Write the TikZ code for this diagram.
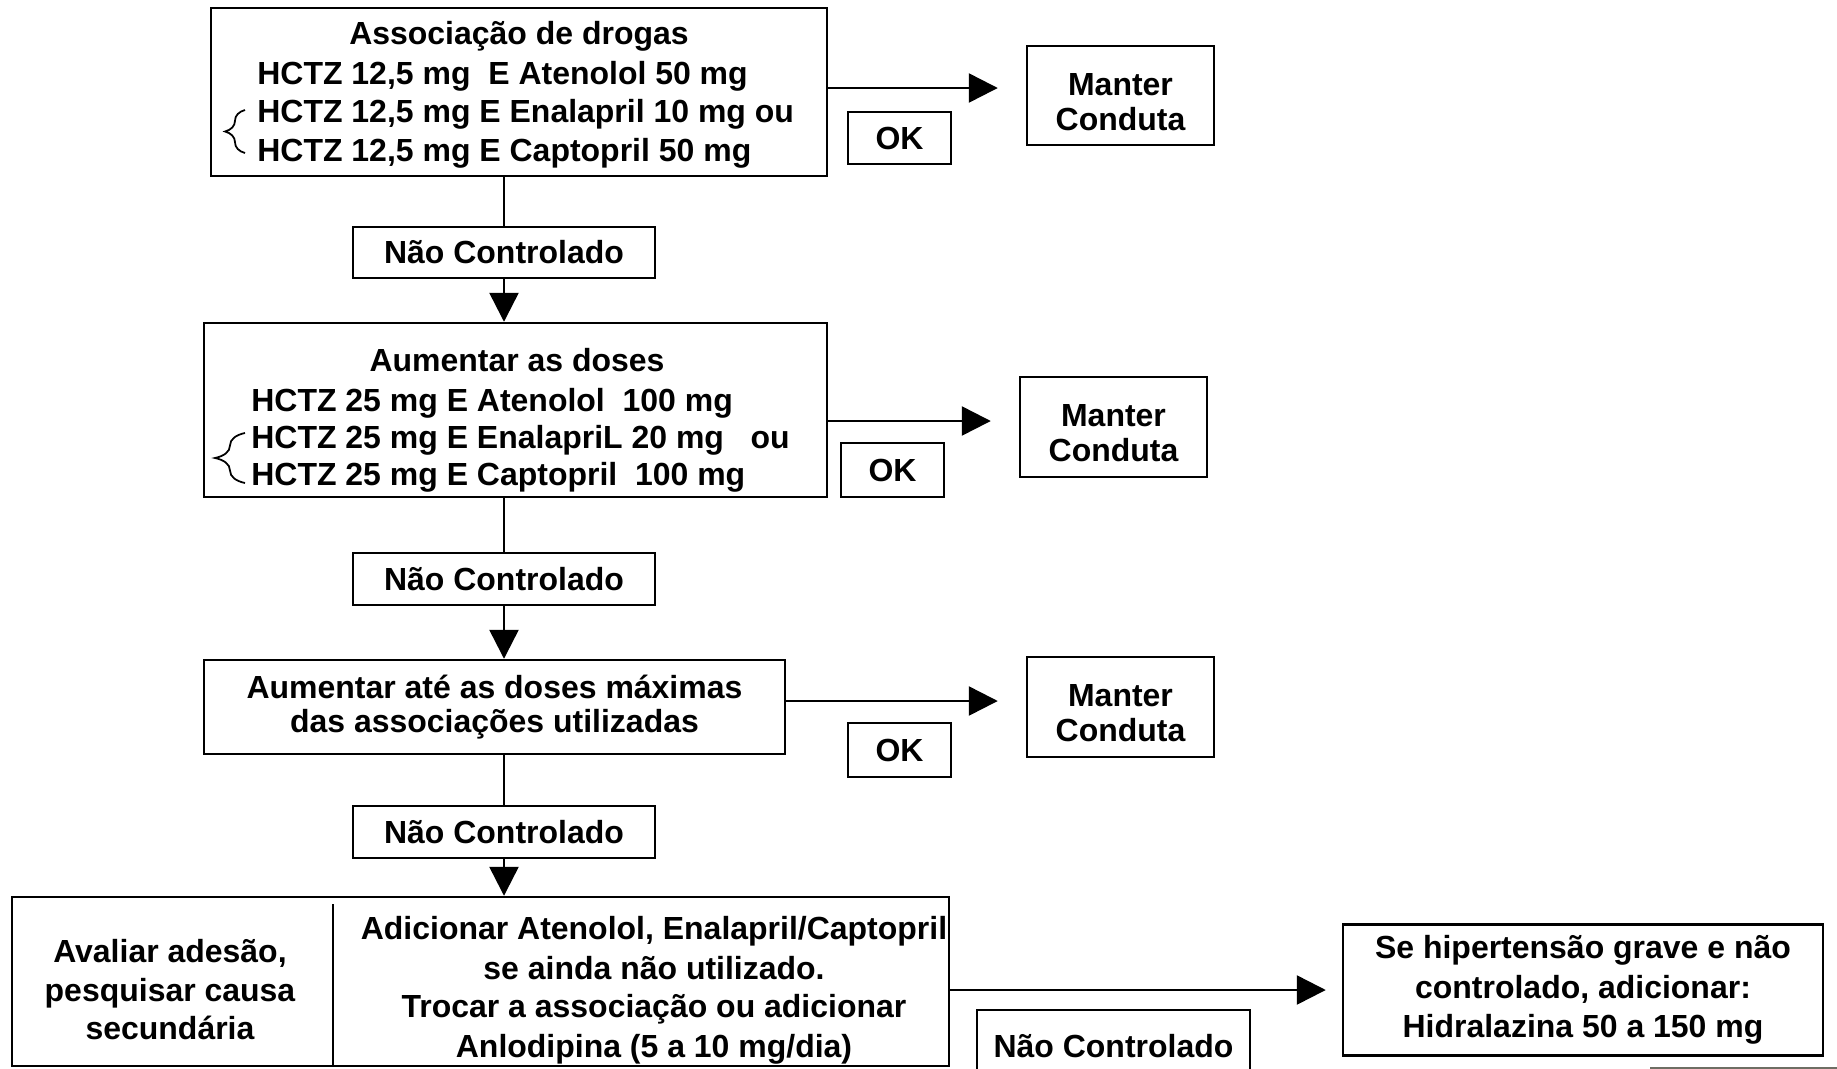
\documentclass[tikz,border=0pt]{standalone}
\usepackage{fontspec}
\setmainfont{Liberation Sans}
\usetikzlibrary{arrows.meta,decorations.pathreplacing}

\definecolor{cinza}{RGB}{110,110,100}

\tikzset{
    caixa/.style={draw, line width=1.4pt, rectangle, inner sep=0pt, align=center,
        font=\bfseries\fontsize{18.2}{19.8}\selectfont},
    tam/.style 2 args={minimum width=#1*0.02cm, minimum height=#2*0.02cm},
    txt/.style={inner sep=0pt, font=\bfseries\fontsize{18.2}{22}\selectfont},
    seta/.style={line width=1.4pt, -{Triangle[length=0.58cm,width=0.58cm]}},
    liga/.style={line width=1.4pt},
    chave/.style={decorate, decoration={brace, amplitude=#1}, line width=1pt},
}

\begin{document}
\begin{tikzpicture}[x=0.02cm, y=-0.02cm]

    % 1. Page size (pixels of the reference)
    \useasboundingbox (0,0) rectangle (1837,1069);

    % 2. First step: drug association
    \node [caixa, tam={616}{168}] (b1) at (519,92) {};
    \node [txt, anchor=base] (b1t) at (519,44) {Associação de drogas};
    \node [txt, anchor=base west] (b1a) at (257,84) {HCTZ 12,5 mg\ \ E Atenolol 50 mg};
    \node [txt, anchor=base west] (b1b) at (257,122) {HCTZ 12,5 mg E Enalapril 10 mg ou};
    \node [txt, anchor=base west] (b1c) at (257,161) {HCTZ 12,5 mg E Captopril 50 mg};
    \draw [chave=0.4cm] (245,153) -- (245,110);

    \node [caixa, tam={187}{99}] (m1) at (1120.5,95.5) {};
    \node [caixa, draw=none] (m1t) at (1120.5,102) {Manter\\Conduta};
    \node [caixa, tam={103}{52}] (ok1) at (899.5,138) {OK};
    \node [caixa, tam={302}{51}] (nc1) at (504,252.5) {Não Controlado};

    % 3. Second step: raise the doses
    \node [caixa, tam={623}{174}] (b2) at (515.5,410) {};
    \node [txt, anchor=base] (b2t) at (517,371) {Aumentar as doses};
    \node [txt, anchor=base west] (b2a) at (251,411) {HCTZ 25 mg E Atenolol\ \ 100 mg};
    \node [txt, anchor=base west] (b2b) at (251,448) {HCTZ 25 mg E EnalapriL 20 mg\ \ \ ou};
    \node [txt, anchor=base west] (b2c) at (251,485) {HCTZ 25 mg E Captopril\ \ 100 mg};
    \draw [chave=0.6cm] (245,483) -- (245,433);

    \node [caixa, tam={187}{100}] (m2) at (1113.5,427) {};
    \node [caixa, draw=none] (m2t) at (1113.5,433.5) {Manter\\Conduta};
    \node [caixa, tam={103}{54}] (ok2) at (892.5,470) {OK};
    \node [caixa, tam={302}{52}] (nc2) at (504,579) {Não Controlado};

    % 4. Third step: maximum doses
    \node [caixa, tam={581}{94}] (b3) at (494.5,707)
        {Aumentar até as doses máximas\\das associações utilizadas};
    \node [caixa, tam={187}{100}] (m3) at (1120.5,707) {};
    \node [caixa, draw=none] (m3t) at (1120.5,713.5) {Manter\\Conduta};
    \node [caixa, tam={103}{54}] (ok3) at (899.5,750) {OK};
    \node [caixa, tam={302}{52}] (nc3) at (504,832) {Não Controlado};

    % 5. Last step: two columns box
    \node [caixa, tam={937}{169}] (b4) at (480.5,981.5) {};
    \draw [liga] (333,904) -- (333,1066);
    \node [txt, anchor=base] (b4a) at (170,962) {Avaliar adesão,};
    \node [txt, anchor=base] (b4b) at (170,1001) {pesquisar causa};
    \node [txt, anchor=base] (b4c) at (170,1039) {secundária};
    \node [txt, anchor=base] (b4d) at (654,939) {Adicionar Atenolol, Enalapril/Captopril};
    \node [txt, anchor=base] (b4e) at (654,979) {se ainda não utilizado.};
    \node [txt, anchor=base] (b4f) at (654,1017) {Trocar a associação ou adicionar};
    \node [txt, anchor=base] (b4g) at (654,1057) {Anlodipina (5 a 10 mg/dia)};

    \node [caixa, tam={480}{131}, font=\bfseries\fontsize{18.2}{22.4}\selectfont] (h) at (1583,990)
        {Se hipertensão grave e não\\controlado, adicionar:\\Hidralazina 50 a 150 mg};
    \node [caixa, tam={273}{72}] (nc4) at (1113.5,1046) {Não Controlado};

    % 6. Connectors
    \draw [seta, shorten >=0.56cm] (b1.east |- 0,88) -- (m1.west |- 0,88);
    \draw [liga] (nc1.north |- b1.south) -- (nc1.north);
    \draw [seta] (nc1.south) -- (nc1.south |- b2.north);

    \draw [seta, shorten >=0.56cm] ([yshift=-11*0.02cm]b2.east) -- ([yshift=-11*0.02cm]b2.east -| m2.west);
    \draw [liga] (nc2.north |- b2.south) -- (nc2.north);
    \draw [seta] (nc2.south) -- (nc2.south |- b3.north);

    \draw [seta, shorten >=0.56cm] ([yshift=6*0.02cm]b3.east) -- ([yshift=6*0.02cm]b3.east -| m3.west);
    \draw [liga] (nc3.north |- b3.south) -- (nc3.north);
    \draw [seta] (nc3.south) -- (nc3.south |- b4.north);

    \draw [seta, shorten >=0.32cm] (b4.east |- h.west) -- (h.west);

    % 7. Edge of a cut-off shape at the corner
    \draw [cinza, line width=1.2pt] (1650,1068) -- (1837,1068);

\end{tikzpicture}
\end{document}
